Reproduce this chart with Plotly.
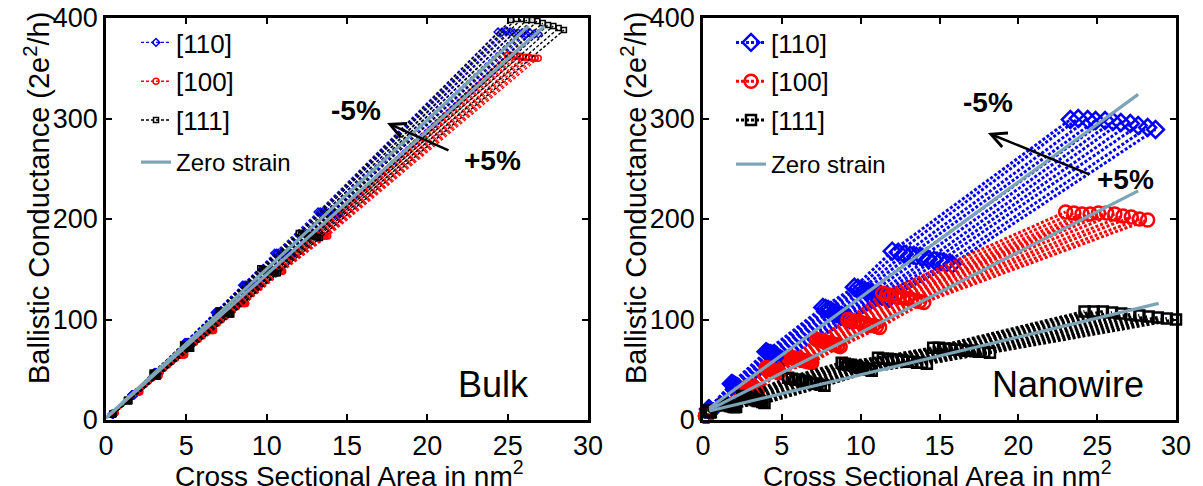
import plotly.graph_objects as go

# ---------------- data ----------------
STRAINS = [-5, -4, -3, -2, -1, 0, 1, 2, 3, 4, 5]   # strain in %, one line per strain

# Bulk, [110]
BULK_110_AREA = [
    [0.40, 1.60, 3.00, 4.90, 6.80, 8.50, 10.50, 13.20, 24.40],
    [0.40, 1.62, 3.03, 4.95, 6.87, 8.59, 10.61, 13.33, 24.65],
    [0.41, 1.63, 3.06, 5.00, 6.94, 8.68, 10.72, 13.46, 24.90],
    [0.41, 1.65, 3.09, 5.05, 7.01, 8.77, 10.83, 13.59, 25.15],
    [0.42, 1.66, 3.12, 5.10, 7.08, 8.86, 10.94, 13.72, 25.40],
    [0.42, 1.68, 3.15, 5.15, 7.15, 8.95, 11.05, 13.85, 25.65],
    [0.42, 1.70, 3.18, 5.20, 7.22, 9.04, 11.16, 13.98, 25.90],
    [0.43, 1.71, 3.21, 5.25, 7.29, 9.13, 11.27, 14.11, 26.15],
    [0.43, 1.73, 3.24, 5.30, 7.36, 9.22, 11.38, 14.24, 26.40],
    [0.44, 1.74, 3.27, 5.35, 7.43, 9.31, 11.49, 14.37, 26.65],
    [0.44, 1.76, 3.30, 5.40, 7.50, 9.40, 11.60, 14.50, 26.90],
]
BULK_110_G = [
    [6, 25, 47, 77, 107, 134, 166, 207, 386],
    [6, 25, 47, 77, 107, 134, 166, 207, 386],
    [6, 25, 47, 77, 107, 134, 166, 207, 387],
    [6, 25, 47, 77, 107, 134, 165, 206, 386],
    [6, 25, 47, 77, 107, 134, 165, 206, 385],
    [6, 25, 46, 76, 106, 133, 165, 206, 385],
    [6, 25, 46, 76, 106, 133, 165, 206, 385],
    [6, 25, 46, 76, 106, 133, 165, 206, 384],
    [6, 25, 46, 76, 106, 133, 164, 205, 385],
    [6, 25, 46, 76, 106, 133, 164, 205, 384],
    [6, 25, 46, 76, 106, 133, 164, 205, 384],
]

# Bulk, [100]
BULK_100_AREA = [
    [0.51, 1.95, 3.07, 4.55, 6.20, 8.10, 10.20, 12.80, 25.00],
    [0.51, 1.97, 3.09, 4.59, 6.25, 8.16, 10.28, 12.90, 25.19],
    [0.52, 1.98, 3.12, 4.62, 6.30, 8.22, 10.36, 13.00, 25.38],
    [0.52, 2.00, 3.14, 4.66, 6.35, 8.28, 10.44, 13.10, 25.57],
    [0.53, 2.01, 3.16, 4.69, 6.40, 8.34, 10.52, 13.20, 25.76],
    [0.53, 2.03, 3.19, 4.73, 6.45, 8.40, 10.60, 13.30, 25.95],
    [0.53, 2.04, 3.21, 4.76, 6.50, 8.46, 10.68, 13.40, 26.14],
    [0.54, 2.06, 3.23, 4.80, 6.55, 8.52, 10.76, 13.50, 26.33],
    [0.54, 2.07, 3.25, 4.83, 6.60, 8.58, 10.84, 13.60, 26.52],
    [0.55, 2.09, 3.28, 4.87, 6.65, 8.64, 10.92, 13.70, 26.71],
    [0.55, 2.10, 3.30, 4.90, 6.70, 8.70, 11.00, 13.80, 26.90],
]
BULK_100_G = [
    [7, 28, 44, 65, 89, 116, 149, 184, 363],
    [7, 28, 44, 65, 89, 116, 149, 184, 363],
    [7, 28, 44, 65, 89, 116, 149, 184, 362],
    [7, 28, 44, 65, 89, 116, 149, 184, 362],
    [7, 28, 44, 65, 89, 116, 149, 184, 362],
    [7, 28, 44, 65, 89, 116, 148, 183, 361],
    [7, 28, 44, 65, 89, 116, 148, 183, 361],
    [7, 28, 44, 65, 89, 116, 148, 183, 361],
    [7, 28, 44, 65, 89, 116, 148, 183, 360],
    [7, 28, 44, 65, 89, 116, 148, 183, 360],
    [7, 28, 44, 65, 89, 116, 148, 183, 360],
]

# Bulk, [111]
BULK_111_AREA = [
    [0.40, 1.30, 2.90, 4.80, 7.00, 9.60, 12.00, 25.20],
    [0.41, 1.32, 2.93, 4.85, 7.08, 9.71, 12.13, 25.53],
    [0.41, 1.33, 2.96, 4.90, 7.16, 9.82, 12.26, 25.86],
    [0.42, 1.35, 2.99, 4.95, 7.24, 9.93, 12.39, 26.19],
    [0.42, 1.36, 3.02, 5.00, 7.32, 10.04, 12.52, 26.52],
    [0.43, 1.38, 3.05, 5.05, 7.40, 10.15, 12.65, 26.85],
    [0.43, 1.39, 3.08, 5.10, 7.48, 10.26, 12.78, 27.18],
    [0.44, 1.41, 3.11, 5.15, 7.56, 10.37, 12.91, 27.51],
    [0.44, 1.42, 3.14, 5.20, 7.64, 10.48, 13.04, 27.84],
    [0.45, 1.44, 3.17, 5.25, 7.72, 10.59, 13.17, 28.17],
    [0.45, 1.45, 3.20, 5.30, 7.80, 10.70, 13.30, 28.50],
]
BULK_111_G = [
    [6, 20, 47, 75, 109, 151, 186, 398],
    [6, 20, 47, 75, 109, 150, 186, 399],
    [6, 20, 46, 74, 108, 150, 185, 399],
    [6, 20, 46, 74, 108, 149, 185, 398],
    [6, 20, 45, 73, 107, 149, 184, 398],
    [6, 19, 45, 73, 107, 148, 184, 397],
    [6, 19, 45, 73, 107, 148, 183, 395],
    [6, 19, 44, 72, 106, 147, 183, 393],
    [6, 19, 44, 72, 106, 147, 182, 392],
    [6, 19, 43, 71, 105, 146, 182, 390],
    [6, 19, 43, 71, 105, 146, 181, 388],
]

# Nanowire, [110]
NW_110_AREA = [
    [0.35, 1.80, 4.0, 7.60, 9.60, 12.00, 23.3],
    [0.37, 1.85, 4.1, 7.77, 9.82, 12.38, 23.8],
    [0.38, 1.90, 4.2, 7.94, 10.04, 12.76, 24.4],
    [0.40, 1.95, 4.3, 8.11, 10.26, 13.14, 24.9],
    [0.41, 2.00, 4.4, 8.28, 10.48, 13.52, 25.5],
    [0.43, 2.05, 4.5, 8.45, 10.70, 13.90, 26.0],
    [0.44, 2.10, 4.6, 8.62, 10.92, 14.28, 26.5],
    [0.46, 2.15, 4.7, 8.79, 11.14, 14.66, 27.1],
    [0.47, 2.20, 4.8, 8.96, 11.36, 15.04, 27.6],
    [0.49, 2.25, 4.9, 9.13, 11.58, 15.42, 28.2],
    [0.50, 2.30, 5.0, 9.30, 11.80, 15.80, 28.7],
]
NW_110_G = [
    [11, 36, 68, 112, 132, 168, 299],
    [11, 36, 67, 111, 131, 167, 300],
    [11, 35, 66, 110, 130, 165, 299],
    [10, 35, 66, 109, 129, 164, 298],
    [10, 34, 65, 107, 128, 163, 298],
    [10, 34, 64, 106, 127, 162, 297],
    [10, 33, 63, 105, 125, 160, 296],
    [10, 33, 62, 104, 124, 159, 295],
    [9, 32, 62, 103, 123, 158, 293],
    [9, 32, 61, 101, 122, 156, 291],
    [9, 31, 60, 100, 121, 155, 289],
]

# Nanowire, [100]
NW_100_AREA = [
    [0.15, 2.80, 4.00, 5.60, 7.20, 9.2, 11.40, 23.00],
    [0.16, 2.87, 4.08, 5.73, 7.35, 9.4, 11.66, 23.52],
    [0.17, 2.94, 4.16, 5.86, 7.50, 9.6, 11.92, 24.04],
    [0.18, 3.01, 4.24, 5.99, 7.65, 9.8, 12.18, 24.56],
    [0.19, 3.08, 4.32, 6.12, 7.80, 10.0, 12.44, 25.08],
    [0.20, 3.15, 4.40, 6.25, 7.95, 10.2, 12.70, 25.60],
    [0.21, 3.22, 4.48, 6.38, 8.10, 10.4, 12.96, 26.12],
    [0.22, 3.29, 4.56, 6.51, 8.25, 10.6, 13.22, 26.64],
    [0.23, 3.36, 4.64, 6.64, 8.40, 10.8, 13.48, 27.16],
    [0.24, 3.43, 4.72, 6.77, 8.55, 11.0, 13.74, 27.68],
    [0.25, 3.50, 4.80, 6.90, 8.70, 11.2, 14.00, 28.20],
]
NW_100_G = [
    [4, 33, 52, 62, 80, 100, 126, 207],
    [4, 33, 52, 62, 79, 99, 125, 206],
    [4, 32, 51, 61, 79, 98, 124, 205],
    [4, 32, 51, 61, 78, 98, 123, 205],
    [4, 32, 50, 60, 77, 97, 122, 206],
    [4, 31, 50, 60, 77, 96, 122, 206],
    [4, 31, 49, 59, 76, 95, 121, 205],
    [4, 31, 49, 59, 75, 94, 120, 203],
    [4, 30, 48, 58, 75, 94, 119, 202],
    [4, 30, 48, 58, 74, 93, 118, 200],
    [4, 30, 47, 57, 73, 92, 117, 199],
]

# Nanowire, [111]
NW_111_AREA = [
    [0.30, 1.30, 2.50, 5.40, 8.80, 11.10, 14.60, 24.20],
    [0.32, 1.38, 2.64, 5.63, 8.99, 11.41, 14.96, 24.78],
    [0.34, 1.46, 2.78, 5.86, 9.18, 11.72, 15.32, 25.36],
    [0.36, 1.54, 2.92, 6.09, 9.37, 12.03, 15.68, 25.94],
    [0.38, 1.62, 3.06, 6.32, 9.56, 12.34, 16.04, 26.52],
    [0.40, 1.70, 3.20, 6.55, 9.75, 12.65, 16.40, 27.10],
    [0.42, 1.78, 3.34, 6.78, 9.94, 12.96, 16.76, 27.68],
    [0.44, 1.86, 3.48, 7.01, 10.13, 13.27, 17.12, 28.26],
    [0.46, 1.94, 3.62, 7.24, 10.32, 13.58, 17.48, 28.84],
    [0.48, 2.02, 3.76, 7.47, 10.51, 13.89, 17.84, 29.42],
    [0.50, 2.10, 3.90, 7.70, 10.70, 14.20, 18.20, 30.00],
]
NW_111_G = [
    [9, 16, 24, 42, 57, 62, 72, 108],
    [9, 16, 23, 41, 56, 61, 72, 108],
    [9, 15, 23, 40, 55, 61, 71, 108],
    [9, 15, 22, 40, 55, 60, 71, 107],
    [9, 15, 21, 39, 54, 60, 70, 106],
    [8, 14, 21, 38, 53, 59, 70, 105],
    [8, 14, 20, 37, 52, 58, 69, 104],
    [8, 14, 19, 36, 51, 58, 69, 103],
    [8, 13, 19, 36, 51, 57, 68, 102],
    [8, 13, 18, 35, 50, 57, 68, 101],
    [8, 13, 17, 34, 49, 56, 67, 100],
]

# Zero-strain reference lines
BULK_ZERO_AREA = [[0.0, 26.3], [0.0, 27.3]]
BULK_ZERO_G = [[2, 392], [2, 392]]
NW_ZERO_AREA = [[0.4, 27.6], [0.4, 27.6], [0.4, 28.9]]
NW_ZERO_G = [[12, 324], [10, 228], [9, 116]]

X_TICKS = [0, 5, 10, 15, 20, 25, 30]
Y_TICKS = [0, 100, 200, 300, 400]
LABEL_110, LABEL_100, LABEL_111 = "[110]", "[100]", "[111]"
LABEL_ZERO = "Zero strain"

# ---------------- styling ----------------
FONT = "Liberation Sans, Arial, Helvetica, sans-serif"
BLUE, RED, BLACK, GREY = "#0000ff", "#ff0000", "#000000", "#7ca4b6"
W, H = 1203, 486

fig = go.Figure()


def add_family(area_rows, g_rows, name, color, symbol, xa, ya, legend, group,
               msize, mlw, lw, dash):
    for i, (xs, ys) in enumerate(zip(area_rows, g_rows)):
        fig.add_trace(go.Scatter(
            x=xs, y=ys, mode="lines+markers", xaxis=xa, yaxis=ya,
            name=name, legend=legend, legendgroup=group, showlegend=(i == 0),
            line=dict(color=color, width=lw, dash=dash),
            marker=dict(symbol=symbol, size=msize, color=color,
                        line=dict(color=color, width=mlw)),
            cliponaxis=False,
            hovertemplate=f"{name} strain {STRAINS[i]:+d}%<br>%{{x}} nm²<br>%{{y}}<extra></extra>",
        ))


def add_zero(area_rows, g_rows, xa, ya, legend, group):
    for i, (xs, ys) in enumerate(zip(area_rows, g_rows)):
        fig.add_trace(go.Scatter(
            x=xs, y=ys, mode="lines", xaxis=xa, yaxis=ya,
            name=LABEL_ZERO, legend=legend, legendgroup=group, showlegend=(i == 0),
            line=dict(color=GREY, width=3.2),
            hoverinfo="skip",
        ))


BD = "3px,2px"
add_family(BULK_110_AREA, BULK_110_G, LABEL_110, BLUE, "diamond-open", "x", "y", "legend", "b1", 6, 1.5, 1.4, BD)
add_family(BULK_100_AREA, BULK_100_G, LABEL_100, RED, "circle-open", "x", "y", "legend", "b2", 6, 1.5, 1.4, BD)
add_family(BULK_111_AREA, BULK_111_G, LABEL_111, BLACK, "square-open", "x", "y", "legend", "b3", 5, 1.5, 1.4, BD)
add_zero(BULK_ZERO_AREA, BULK_ZERO_G, "x", "y", "legend3", "b4")

ND = "3px,2px"
add_family(NW_110_AREA, NW_110_G, LABEL_110, BLUE, "diamond-open", "x2", "y2", "legend2", "n1", 13, 2.5, 3, ND)
add_family(NW_100_AREA, NW_100_G, LABEL_100, RED, "circle-open", "x2", "y2", "legend2", "n2", 13, 2.5, 3, ND)
add_family(NW_111_AREA, NW_111_G, LABEL_111, BLACK, "square-open", "x2", "y2", "legend2", "n3", 10, 2.5, 3, ND)
add_zero(NW_ZERO_AREA, NW_ZERO_G, "x2", "y2", "legend4", "n4")

ydom = [1 - 412 / H, 1 - 10 / H]
axis_common = dict(showline=True, linewidth=2.5, linecolor="black", mirror="allticks",
                   ticks="inside", ticklen=6, tickwidth=2, tickcolor="black",
                   showgrid=False, zeroline=False, automargin=False,
                   ticklabeloverflow="allow",
                   tickfont=dict(family=FONT, size=27, color="black"))

legend_common = dict(xanchor="left", yanchor="top", bgcolor="rgba(0,0,0,0)",
                     font=dict(family=FONT, size=26, color="black"),
                     tracegroupgap=2, traceorder="grouped")
legend_zero = dict(xanchor="left", yanchor="top", bgcolor="rgba(0,0,0,0)",
                   font=dict(family=FONT, size=24, color="black"))

fig.update_layout(
    width=W, height=H, margin=dict(l=0, r=0, t=0, b=0, autoexpand=False),
    paper_bgcolor="white", plot_bgcolor="white",
    xaxis=dict(domain=[98 / W, 580 / W], range=[0, 30], tickvals=X_TICKS, anchor="y", **axis_common),
    yaxis=dict(domain=ydom, range=[0, 400], tickvals=Y_TICKS, anchor="x", **axis_common),
    xaxis2=dict(domain=[695 / W, 1168 / W], range=[0, 30], tickvals=X_TICKS, anchor="y2", **axis_common),
    yaxis2=dict(domain=ydom, range=[0, 400], tickvals=Y_TICKS, anchor="x2", **axis_common),
    legend=dict(x=128 / W, y=1 - 11 / H, **legend_common),
    legend2=dict(x=723 / W, y=1 - 11 / H, **legend_common),
    legend3=dict(x=128 / W, y=1 - 132 / H, **legend_zero),
    legend4=dict(x=723 / W, y=1 - 134 / H, **legend_zero),
    showlegend=True,
)

XT_FONT = dict(family=FONT, size=28, color="black")
YT_FONT = dict(family=FONT, size=29, color="black")
XT = "Cross Sectional Area in nm<sup>2</sup>"
YT = "Ballistic Conductance (2e<sup>2</sup>/h)"
ann = []
for cx in (341, 929):
    ann.append(dict(text=XT, x=cx / W, y=1 - 466 / H, xref="paper", yref="paper",
                    showarrow=False, xanchor="center", yanchor="middle", font=XT_FONT))
for cx in (29, 626):
    ann.append(dict(text=YT, x=cx / W, y=1 - 190 / H, xref="paper", yref="paper",
                    showarrow=False, xanchor="center", yanchor="middle", textangle=-90,
                    font=YT_FONT))

BOLD = dict(family=FONT, size=28, color="black")
PANEL = dict(family=FONT, size=36, color="black")
ann += [
    dict(text="<b>-5%</b>", x=15.56, y=307.5, xref="x", yref="y", showarrow=False, font=BOLD),
    dict(text="<b>+5%</b>", x=24.08, y=258.7, xref="x", yref="y", showarrow=False, font=BOLD),
    dict(text="", x=17.49, y=295.5, ax=21.41, ay=267.7, xref="x", yref="y", axref="x", ayref="y",
         showarrow=True, arrowhead=5, arrowsize=1.2, arrowwidth=2.5, arrowcolor="black",
         standoff=0, startstandoff=0),
    dict(text="Bulk", x=24.14, y=35.8, xref="x", yref="y", showarrow=False, font=PANEL),
    dict(text="<b>-5%</b>", x=18.07, y=316.4, xref="x2", yref="y2", showarrow=False, font=BOLD),
    dict(text="<b>+5%</b>", x=26.82, y=239.8, xref="x2", yref="y2", showarrow=False, font=BOLD),
    dict(text="", x=18.07, y=285.6, ax=24.60, ay=243.8, xref="x2", yref="y2", axref="x2", ayref="y2",
         showarrow=True, arrowhead=5, arrowsize=1.2, arrowwidth=2.5, arrowcolor="black",
         standoff=0, startstandoff=0),
    dict(text="Nanowire", x=23.15, y=35.8, xref="x2", yref="y2", showarrow=False, font=PANEL),
]
fig.update_layout(annotations=ann)

fig.write_html("out.html")
